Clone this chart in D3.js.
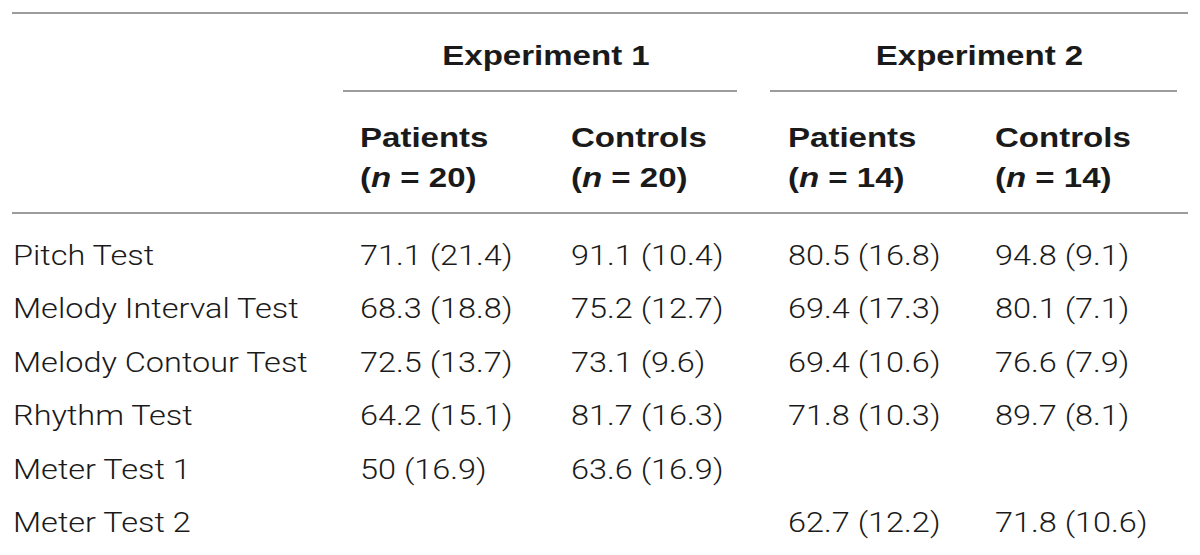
<!DOCTYPE html>
<html>
<head>
<meta charset="utf-8">
<script src="https://cdn.jsdelivr.net/npm/d3@7"></script>
<style>
  html, body { margin: 0; padding: 0; background: #fff; }
  svg text { fill: #1a1a1a; }
  .rule { stroke: #9c9c9c; stroke-width: 2; }
  .body { font-family: Roboto, "Liberation Sans", sans-serif; font-weight: 300; font-size: 28px; }
  .head { font-family: "Liberation Sans", Arial, sans-serif; font-weight: bold; font-size: 28px; }
</style>
</head>
<body>
<div id="chart"></div>
<script>
var tests = ["Pitch Test", "Melody Interval Test", "Melody Contour Test", "Rhythm Test", "Meter Test 1", "Meter Test 2"];
var experiments = ["Experiment 1", "Experiment 2"];
var groups = ["Patients", "Controls"];
var groupN = [20, 20, 14, 14];

// mean (sd) per column, null where the test was not given
var exp1PatientsMean = [71.1, 68.3, 72.5, 64.2, 50, null];
var exp1PatientsSd   = [21.4, 18.8, 13.7, 15.1, 16.9, null];
var exp1ControlsMean = [91.1, 75.2, 73.1, 81.7, 63.6, null];
var exp1ControlsSd   = [10.4, 12.7, 9.6, 16.3, 16.9, null];
var exp2PatientsMean = [80.5, 69.4, 69.4, 71.8, null, 62.7];
var exp2PatientsSd   = [16.8, 17.3, 10.6, 10.3, null, 12.2];
var exp2ControlsMean = [94.8, 80.1, 76.6, 89.7, null, 71.8];
var exp2ControlsSd   = [9.1, 7.1, 7.9, 8.1, null, 10.6];

var width = 1200, height = 555;
var bodyStretch = 1.16, headStretch = 1.18;

var columns = [
  {exp: 0, group: 0, mean: exp1PatientsMean, sd: exp1PatientsSd},
  {exp: 0, group: 1, mean: exp1ControlsMean, sd: exp1ControlsSd},
  {exp: 1, group: 0, mean: exp2PatientsMean, sd: exp2PatientsSd},
  {exp: 1, group: 1, mean: exp2ControlsMean, sd: exp2ControlsSd}
];

var x = d3.scaleOrdinal().domain(d3.range(4)).range([360, 571, 788, 995]);
var y = d3.scalePoint().domain(tests).range([265, 532]);

// spans of the experiment rules
var expSpan = d3.scaleOrdinal().domain(experiments).range([[343, 737], [770, 1177]]);

var svg = d3.select("#chart").append("svg")
    .attr("width", width)
    .attr("height", height);

// Rules
svg.append("line").attr("class", "rule")
    .attr("x1", 12).attr("x2", 1188).attr("y1", 13).attr("y2", 13);
svg.append("line").attr("class", "rule")
    .attr("x1", 12).attr("x2", 1188).attr("y1", 213).attr("y2", 213);

svg.selectAll("line.exp")
    .data(experiments)
  .enter().append("line")
    .attr("class", "rule exp")
    .attr("x1", function(d){ return expSpan(d)[0]; })
    .attr("x2", function(d){ return expSpan(d)[1]; })
    .attr("y1", 91).attr("y2", 91);

// Experiment titles
svg.selectAll("text.exp")
    .data(experiments)
  .enter().append("text")
    .attr("class", "head exp")
    .attr("text-anchor", "middle")
    .attr("transform", function(d){
      var s = expSpan(d);
      return "translate(" + ((s[0] + s[1]) / 2 + 6) + ",65) scale(" + headStretch + ",1)";
    })
    .text(function(d){ return d; });

// Group headers
var gh = svg.selectAll("g.group")
    .data(columns)
  .enter().append("g")
    .attr("class", "group");

gh.append("text")
    .attr("class", "head")
    .attr("transform", function(d, i){ return "translate(" + x(i) + ",147) scale(" + headStretch + ",1)"; })
    .text(function(d){ return groups[d.group]; });

var nt = gh.append("text")
    .attr("class", "head")
    .attr("transform", function(d, i){ return "translate(" + x(i) + ",187) scale(" + headStretch + ",1)"; });
nt.append("tspan").text("(");
nt.append("tspan").style("font-style", "italic").text("n");
nt.append("tspan").text(function(d, i){ return " = " + groupN[i] + ")"; });

// Row labels
svg.selectAll("text.label")
    .data(tests)
  .enter().append("text")
    .attr("class", "body label")
    .attr("transform", function(d){ return "translate(13," + y(d) + ") scale(" + bodyStretch + ",1)"; })
    .text(function(d){ return d; });

// Cells
columns.forEach(function(col, ci){
  var cells = tests.map(function(t, ri){ return {test: t, mean: col.mean[ri], sd: col.sd[ri]}; })
      .filter(function(d){ return d.mean != null; });
  svg.selectAll("text.cell" + ci)
      .data(cells)
    .enter().append("text")
      .attr("class", "body cell" + ci)
      .attr("transform", function(d){ return "translate(" + x(ci) + "," + y(d.test) + ") scale(" + bodyStretch + ",1)"; })
      .text(function(d){ return d.mean + " (" + d.sd + ")"; });
});
</script>
</body>
</html>
